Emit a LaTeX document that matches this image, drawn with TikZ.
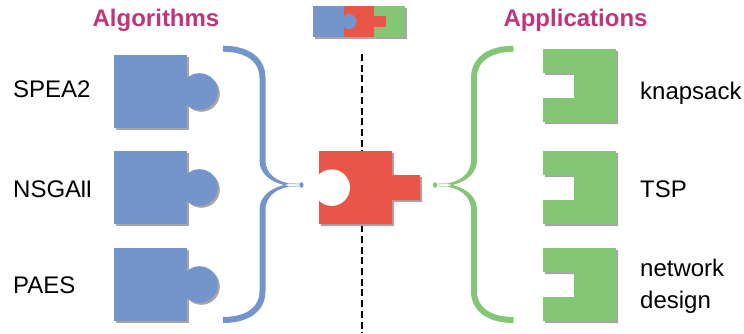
\documentclass[tikz,border=0pt]{standalone}
\usepackage{fontspec}
\setmainfont{Liberation Sans}
\definecolor{pblue}{HTML}{7395CC}
\definecolor{pred}{HTML}{E95547}
\definecolor{pgreen}{HTML}{83C776}
\definecolor{pshadow}{HTML}{A9A5A5}
\definecolor{ptitle}{HTML}{C0357A}
\tikzset{
  px/.style={x=1pt,y=-1pt},
  lab/.style={font=\fontsize{24}{28}\selectfont,text=black,inner sep=0pt,align=left},
  ttl/.style={font=\fontsize{24}{28}\selectfont\bfseries,text=ptitle,inner sep=0pt},
  brace/.style={line width=6pt,line cap=butt},
  whisker/.style={line width=1pt},
}
\newcommand{\plug}[2]{%
  \begin{scope}[shift={(114,#1)}]
    \fill[#2] (0,0) rectangle (73,73);
    \fill[#2] (85.5,36.5) circle (18.3);
  \end{scope}}
\newcommand{\sock}[2]{%
  \begin{scope}[shift={(543,#1)}]
    \fill[#2] (0,0) -- (73,0) -- (73,73) -- (0,73) -- (0,49) -- (31,49) -- (31,24) -- (0,24) -- cycle;
  \end{scope}}
\newcommand{\bracket}[1]{%
  \draw[#1,brace] (223,48.7) .. controls (245,48.7) and (262.5,58) .. (262.5,78) -- (262.5,160.2);
  \draw[#1,brace] (223,320) .. controls (245,320) and (262.5,311) .. (262.5,291) -- (262.5,209.8);
  \fill[#1] (259.5,160) .. controls (259.5,172) and (268,181) .. (284,185)
     -- (291,183.6) .. controls (278,182) and (265.5,175) .. (265.5,160) -- cycle;
  \fill[#1] (259.5,210) .. controls (259.5,198) and (268,189) .. (284,185)
     -- (291,186.4) .. controls (278,188) and (265.5,195) .. (265.5,210) -- cycle;
  \draw[#1!55,whisker] (288,183.4) -- (301,184);
  \draw[#1!55,whisker] (288,186.6) -- (301,186);
  \fill[#1] (301.5,185) ellipse (2 and 2.8);}
\begin{document}
\begin{tikzpicture}[px]
\useasboundingbox (0,0) rectangle (744,333);
% dashed axis
\coordinate (axtop) at (362,54);
\coordinate (axbot) at (362,333);
\draw[black,line width=2pt,dash pattern=on 7pt off 3.7pt] (axtop) -- (axbot);
% titles
\node[ttl,anchor=base] (talg) at (156,26.5) {Algorithms};
\node[ttl,anchor=base] (tapp) at (575.5,26.5) {Applications};
% top mini puzzle
\begin{scope}[shift={(2,2)}]
  \fill[pshadow] (313,6) rectangle (405,37);
\end{scope}
\fill[pgreen] (374,6) rectangle (405,37);
\fill[pred] (344,6) rectangle (374,37);
\fill[pred] (374,16) rectangle (386,27);
\fill[pblue] (313,6) rectangle (344,37);
\fill[pblue] (349,21.5) circle (7.6);
% plugs
\foreach \y in {55,151,248}{
  \begin{scope}[shift={(2,2)}]\plug{\y}{pshadow}\end{scope}
  \plug{\y}{pblue}
}
% sockets
\foreach \y in {49,151,248}{
  \begin{scope}[shift={(2,2)}]\sock{\y}{pshadow}\end{scope}
  \sock{\y}{pgreen}
}
% red piece
\fill[pshadow,shift={(2,2)}] (319,151) rectangle (392,224) (392,175) rectangle (420,200);
\fill[pred] (319,151) rectangle (392,224) (392,175) rectangle (420,200);
\begin{scope}
  \clip (319,151) rectangle (392,224);
  \fill[white] (331.7,187.6) circle (18.3);
\end{scope}
% braces
\bracket{pblue}
\begin{scope}[shift={(736.5,0)},xscale=-1]
  \bracket{pgreen}
\end{scope}
% labels
\node[lab,anchor=base west] (a1) at (13,97) {SPEA2};
\node[lab,anchor=base west] (a2) at (13,197) {NSGA\kern-1.2pt I\kern-1.2pt I};
\node[lab,anchor=base west] (a3) at (13,293) {PAES};
\node[lab,anchor=base west] (b1) at (640,99) {knapsack};
\node[lab,anchor=base west] (b2) at (640,197) {TSP};
\node[lab,anchor=base west] (b3) at (640,276) {network};
\node[lab,anchor=base west] (b4) at (640,308) {design};
\end{tikzpicture}
\end{document}
